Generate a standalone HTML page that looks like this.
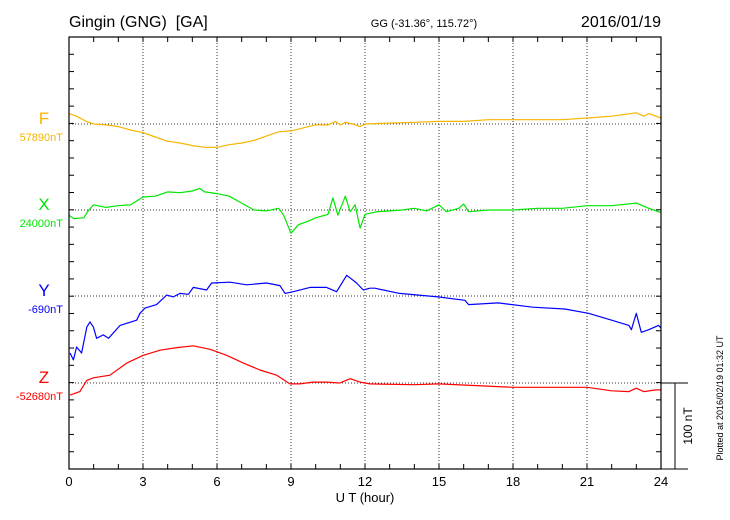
<!DOCTYPE html>
<html><head><meta charset="utf-8"><style>
body{margin:0;background:#fff;}
svg{display:block;font-family:"Liberation Sans",sans-serif;}
</style></head><body>
<svg id="chart" width="730" height="520" viewBox="0 0 730 520" xmlns="http://www.w3.org/2000/svg">
<text x="69" y="27" font-size="16" style="white-space:pre">Gingin (GNG)&#160; [GA]</text>
<text x="424" y="27" font-size="11" text-anchor="middle">GG (-31.36°, 115.72°)</text>
<text x="661" y="27" font-size="16" text-anchor="end">2016/01/19</text>
<text x="365" y="502" font-size="13" text-anchor="middle">U T (hour)</text>
<text transform="translate(723,398) rotate(-90)" font-size="9" text-anchor="middle">Plotted at 2016/02/19 01:32 UT</text>
<text transform="translate(692,426) rotate(-90)" font-size="12" text-anchor="middle">100 nT</text>
<g id="grid"></g><g id="series"></g><g id="axes"></g>
</svg>
<script>
const hourTicks=[0,3,6,9,12,15,18,21,24];
const compNames=["F","X","Y","Z"];
const compBaselines=["57890nT","24000nT","-690nT","-52680nT"];
const fT=[0,0.3,0.7,1,1.5,2,2.5,3,3.5,4,4.5,5,5.5,6,6.5,7,7.5,8,8.5,9,9.3,9.7,10,10.5,10.8,11,11.2,11.5,11.8,12,13,14,15,16,17,18,19,20,21,22,23,23.3,23.5,24];
const fV=[12,9,3,0,-1,-3,-7,-10,-15,-20,-22,-25,-27,-27,-24,-22,-19,-14,-9,-8,-6,-3,-1,-1,3,-1,2,0,-3,0,1,2,3,3,5,5,5,5,7,9,13,9,12,7];
const xT=[0,0.2,0.6,0.8,1,1.5,2,2.5,3,3.5,4,4.5,5,5.3,5.5,6,6.5,7,7.5,8,8.5,8.7,9,9.3,9.7,10,10.5,10.7,10.9,11.2,11.4,11.6,11.8,12,12.5,13,13.5,14,14.5,15,15.3,15.8,16,16.2,17,18,19,20,21,22,23,23.5,24];
const xV=[-6,-10,-9,0,6,3,5,6,15,16,21,20,22,25,21,19,16,8,0,-1,2,-6,-27,-17,-13,-9,-5,14,-6,16,-2,6,-21,-5,-2,-1,0,2,-1,6,-2,2,7,-2,0,0,2,2,5,5,8,2,-3];
const yT=[0.04,0.18,0.31,0.51,0.72,0.85,0.99,1.12,1.39,1.6,2.07,2.74,2.88,3.08,3.55,3.96,4.23,4.5,4.84,5.04,5.58,5.78,6.53,7.2,8.01,8.55,8.76,9.09,9.77,10.44,10.85,11.26,11.66,11.93,12.2,12.4,13.4,14.96,16.05,16.2,17.4,18.8,20.1,21.06,22,22.7,22.8,23,23.2,23.5,23.9,24];
const yV=[-66,-74,-59,-66,-36,-30,-36,-49,-45,-49,-34,-28,-20,-14,-10,1,-1,3,2,10,7,15,16,13,15,12,3,5,10,10,5,24,15,7,9,9,3,-1,-5,-10,-8,-13,-15,-20,-28,-34,-39,-20,-42,-39,-34,-37];
const zT=[0.04,0.44,0.72,0.99,1.66,2.34,3,3.69,4.37,5.04,5.72,6.4,7.07,7.74,8.42,8.96,9.36,9.9,10.44,10.98,11.4,11.8,12.2,14,15,18,21,22,22.7,23,23.3,23.8,24];
const zV=[-14,-10,3,6,9,23,32,38,41,43,39,32,23,15,9,-1,-1,1,1,0,5,1,-1,-2,-1,-5,-5,-9,-10,-6,-10,-8,-8];
const L=69,R=661,T=37,B=469;
const pxPerNT=(B-T)/500;
const baseY=[124,210,296,383];
const colors=["#f7b500","#00e600","#0000ff","#ff0000"];
const xs=h=>L+(R-L)*h/24;
const ys=(i,v)=>baseY[i]-v*pxPerNT;
const NS="http://www.w3.org/2000/svg";
function mk(tag,attrs,parent){const e=document.createElementNS(NS,tag);for(const k in attrs)e.setAttribute(k,attrs[k]);parent.appendChild(e);return e;}
const grid=document.getElementById('grid'),axes=document.getElementById('axes'),ser=document.getElementById('series');
hourTicks.slice(1,-1).forEach(h=>{const l=mk('line',{x1:xs(h),x2:xs(h),y1:T,y2:B,stroke:'#333','stroke-width':1,'stroke-dasharray':'1,2'},grid);

});
baseY.forEach((y,i)=>{const l=mk('line',{x1:L,x2:R,y1:y,y2:y,stroke:'#333','stroke-width':1,'stroke-dasharray':'1,2'},grid);

});
const data=[[fT,fV],[xT,xV],[yT,yV],[zT,zV]];
data.forEach((d,i)=>{const pts=d[0].map((t,j)=>xs(t).toFixed(1)+','+ys(i,d[1][j]).toFixed(1)).join(' ');
const p=mk('polyline',{points:pts,fill:'none',stroke:colors[i],'stroke-width':1.2,'stroke-linejoin':'round'},ser);


const t=mk('text',{x:44,y:baseY[i]+0,'font-size':17,fill:colors[i],'text-anchor':'middle'},ser);t.textContent=compNames[i];


const b=mk('text',{x:63,y:baseY[i]+17,'font-size':11,fill:colors[i],'text-anchor':'end'},ser);b.textContent=compBaselines[i];

});
const box=mk('rect',{x:L,y:T,width:R-L,height:B-T,fill:'none',stroke:'#000','stroke-width':1.2},axes);


for(let h=1;h<24;h++){mk('line',{x1:xs(h),x2:xs(h),y1:T,y2:T+5,stroke:'#000'},axes);mk('line',{x1:xs(h),x2:xs(h),y1:B,y2:B-5,stroke:'#000'},axes);}
for(let k=1;k<25;k++){const y=T+k*20*pxPerNT;mk('line',{x1:L,x2:L+5,y1:y,y2:y,stroke:'#000'},axes);mk('line',{x1:R,x2:R-5,y1:y,y2:y,stroke:'#000'},axes);}
hourTicks.forEach(h=>{const t=mk('text',{x:xs(h),y:486,'font-size':13,'text-anchor':'middle'},axes);t.textContent=h;

});
const s1=mk('line',{x1:675,x2:675,y1:383,y2:469,stroke:'#000'},axes);


mk('line',{x1:R,x2:688,y1:383,y2:383,stroke:'#000'},axes);
mk('line',{x1:R,x2:688,y1:469,y2:469,stroke:'#000'},axes);
</script>
</body></html>
